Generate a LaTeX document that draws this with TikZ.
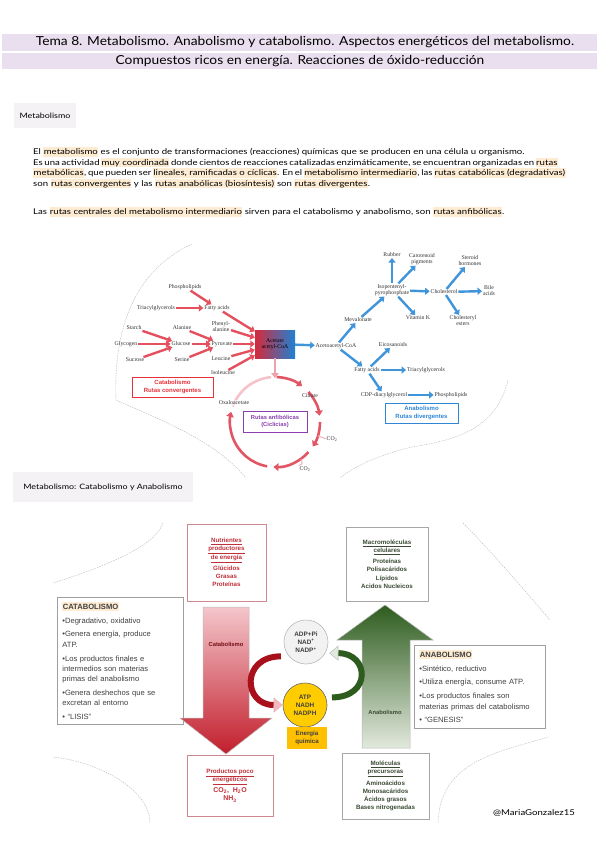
\documentclass[tikz,border=0pt]{standalone}
\usepackage{fontspec}
\setmainfont{Lato}
\newfontfamily\handf{Lato}[FakeStretch=1.2]
\newfontfamily\titlef{Lato}[FakeStretch=1.11]
\newfontfamily\arialf{Liberation Sans}
\newfontfamily\timesf{Liberation Serif}
\usetikzlibrary{calc,arrows.meta}

\definecolor{lavband}{HTML}{E9DFEE}
\definecolor{hlpeach}{HTML}{FDEBD2}
\definecolor{headgray}{HTML}{F4F2F5}
\definecolor{catred}{HTML}{E8303A}
\definecolor{catarrow}{HTML}{E4505E}
\definecolor{cycred}{HTML}{E25565}
\definecolor{anaarrow}{HTML}{3F94DA}
\definecolor{anablue}{HTML}{2D86D6}
\definecolor{anfpurple}{HTML}{8A3FB0}
\definecolor{acred}{HTML}{D42A3C}
\definecolor{acmid}{HTML}{F3E6F0}
\definecolor{acblue}{HTML}{1F80D2}
\definecolor{nutred}{HTML}{C0303A}
\definecolor{pinkbord}{HTML}{D08890}
\definecolor{catpink}{HTML}{F4C6CB}
\definecolor{catmid}{HTML}{E58E98}
\definecolor{catdeep}{HTML}{C21E2C}
\definecolor{curvred}{HTML}{A8101C}
\definecolor{curvpink}{HTML}{F2B8C0}
\definecolor{greendark}{HTML}{2E5C1E}
\definecolor{greenmid}{HTML}{8FA884}
\definecolor{greenlight}{HTML}{E2E9DD}
\definecolor{textgreen}{HTML}{3A4A34}
\definecolor{atpyellow}{HTML}{FFCC00}
\definecolor{enyellow}{HTML}{FFC000}
\definecolor{boxtext}{HTML}{404040}

\newcommand{\hl}[1]{{\setlength{\fboxsep}{0.4pt}\colorbox{hlpeach}{\vphantom{Ág}#1}}}

\tikzset{
  titletxt/.style={inner sep=0pt, font=\titlef\fontsize{12.4}{14}\selectfont},
  headbox/.style={fill=headgray, inner sep=0pt, font=\handf\fontsize{7.4}{8}\selectfont},
  para/.style={anchor=west, inner sep=0pt, font=\handf\fontsize{8}{10}\selectfont},
  lbl/.style={inner sep=0.8pt, align=center, text=black!80, font=\timesf\fontsize{5.8}{6}\selectfont},
  catarr/.style={line width=2.4pt, draw=catarrow, -{Triangle[length=4.5pt,width=7pt]}},
  anaarr/.style={line width=2.4pt, draw=anaarrow, -{Triangle[length=4.5pt,width=7pt]}},
  cycarr/.style={line width=2.6pt, draw=cycred, -{Triangle[length=5pt,width=7.5pt]}},
  legbox/.style={draw, line width=0.6pt, fill=white, align=center, inner sep=1pt, font=\arialf\bfseries\fontsize{6}{7.4}\selectfont},
  outline/.style={draw=gray!55, dash pattern=on 1.5pt off 1pt, line width=0.4pt},
  infobox/.style={draw=gray!75, line width=0.8pt, fill=white, text width=116pt, inner sep=5pt, align=left, text=boxtext, font=\arialf\fontsize{7.6}{10.3}\selectfont},
  smallbox/.style={draw, line width=0.8pt, fill=white, align=center, inner sep=1pt, font=\arialf\bfseries\fontsize{6.2}{8.2}\selectfont},
  circ/.style={circle, minimum size=44pt, inner sep=0pt, line width=0.6pt, align=center, font=\arialf\bfseries\fontsize{6.4}{8.2}\selectfont},
  arrlbl/.style={inner sep=0pt, font=\arialf\bfseries\fontsize{5.8}{6}\selectfont}
}

\begin{document}
\begin{tikzpicture}[x=1pt,y=-1pt]
\useasboundingbox (0,0) rectangle (599,848);
\fill[white] (0,0) rectangle (599,848);

\fill[lavband] (2,34) rectangle (597,51);
\fill[lavband] (2,53) rectangle (597,69);
\node[titletxt] (tit1) at (305,42.5) {Tema 8. Metabolismo. Anabolismo y catabolismo. Aspectos energéticos del metabolismo.};
\node[titletxt] (tit2) at (300,61) {Compuestos ricos en energía. Reacciones de óxido-reducción};

\node[headbox, minimum width=62pt, minimum height=25pt] (head1) at (45,116) {Metabolismo};

\node[para] (p1) at (33,152) {El \hl{metabolismo} es el conjunto de transformaciones (reacciones) químicas que se producen en una célula u organismo.};
\node[para] (p2) at (33,162.5) {\makebox[524pt][s]{Es una actividad \hl{muy coordinada} donde cientos de reacciones catalizadas enzimáticamente, se encuentran organizadas en \hl{rutas}}};
\node[para] (p3) at (33,173) {\makebox[524pt][s]{\hl{metabólicas}, que pueden ser \hl{lineales, ramificadas o cíclicas}. En el \hl{metabolismo intermediario}, las \hl{rutas catabólicas (degradativas)}}};
\node[para] (p4) at (33,183.5) {son \hl{rutas convergentes} y las \hl{rutas anabólicas (biosíntesis)} son \hl{rutas divergentes}.};
\node[para] (p5) at (33,212) {Las \hl{rutas centrales del metabolismo intermediario} sirven para el catabolismo y anabolismo, son \hl{rutas anfibólicas}.};

\draw[outline] (192,244) .. controls (140,268) and (113,320) .. (116,400) .. controls (160,420) and (215,440) .. (246,478);
\draw[outline] (508,380) .. controls (496,430) and (455,440) .. (412,447) .. controls (382,454) and (356,465) .. (340,478);

\node[lbl] (phosl) at (185,287) {Phospholipids};
\node[lbl] (triacl) at (156,308) {Triacylglycerols};
\node[lbl] (fattyl) at (217,308) {Fatty acids};
\node[lbl] (starch) at (134,328) {Starch};
\node[lbl] (alanine) at (182,328) {Alanine};
\node[lbl] (phenyl) at (221,327) {Phenyl-\\alanine};
\node[lbl] (glycogen) at (126,344) {Glycogen};
\node[lbl] (glucose) at (181,344) {Glucose};
\node[lbl] (pyruvate) at (222,344) {Pyruvate};
\node[lbl] (sucrose) at (135,360) {Sucrose};
\node[lbl] (serine) at (182,360) {Serine};
\node[lbl] (leucine) at (221,359) {Leucine};
\node[lbl] (isoleu) at (223,373) {Isoleucine};
\node[lbl, text=black, minimum width=40pt, minimum height=28pt, left color=acred, middle color=acmid, right color=acblue] (acetyl) at (275,344) {Acetate\\acetyl-CoA};
\node[lbl] (acetoa) at (336,346) {Acetoacetyl-CoA};

\draw[catarr] (phosl) -- (fattyl);
\draw[catarr] (triacl) -- (fattyl);
\draw[catarr] (starch) -- (glucose);
\draw[catarr] (glycogen) -- (glucose);
\draw[catarr] (sucrose) -- (glucose);
\draw[catarr] (alanine) -- (pyruvate);
\draw[catarr] (glucose) -- (pyruvate);
\draw[catarr] (serine) -- (pyruvate);
\foreach \src in {fattyl,phenyl,pyruvate,leucine,isoleu}
  \draw[catarr] (\src) -- (acetyl);
\draw[anaarr] (acetyl) -- (acetoa);

\node[legbox, draw=catred, text=catred, minimum width=81pt, minimum height=20pt] (catleg) at (172.5,387) {Catabolismo\\Rutas convergentes};

\coordinate (cyc) at (275,422);
\coordinate (cyctop) at (275,378);
\draw[cycarr, draw=cycred!55] (acetyl) -- (cyctop);
\foreach \a/\b in {-88/-53, -42/-8, 0/33, 42/92, 100/193}
  \draw[cycarr] ($(cyc)+(\a:45)$) arc[start angle=\a, end angle=\b, radius=45];
\draw[line width=2.6pt, draw=cycred!35] ($(cyc)+(-160:45)$) arc[start angle=-160, end angle=-95, radius=45];
\node[lbl] (citrate) at (310,396) {Citrate};
\node[lbl, fill=white, fill opacity=0.6, text opacity=1] (oxalo) at (234,403) {Oxaloacetate};
\node[lbl] (co2a) at (332,439) {CO\textsubscript{2}};
\node[lbl] (co2b) at (305,469) {CO\textsubscript{2}};
\draw[line width=1pt, draw=cycred!45] ($(cyc)+(18:45)$) .. controls +(6,2) .. (co2a.west);
\draw[line width=1pt, draw=cycred!45] ($(cyc)+(55:45)$) .. controls +(2,5) .. (co2b.north west);
\node[legbox, draw=anfpurple, text=anfpurple, minimum width=64pt, minimum height=21pt, font=\arialf\bfseries\fontsize{5.8}{7.2}\selectfont] (anfleg) at (275,421.5) {Rutas anfibólicas\\(Ciclicias)};

\node[lbl] (rubber) at (392,255) {Rubber};
\node[lbl] (carot) at (422,259) {Carotenoid\\pigments};
\node[lbl] (steroid) at (470,261) {Steroid\\hormones};
\node[lbl] (isopent) at (392,290) {Isopentenyl-\\pyrophosphate};
\node[lbl] (cholest) at (444,292) {Cholesterol};
\node[lbl] (bile) at (489,291) {Bile\\acids};
\node[lbl] (meval) at (358,320) {Mevalonate};
\node[lbl] (vitk) at (418,318) {Vitamin K};
\node[lbl] (cholestr) at (463,321) {Cholesteryl\\esters};
\node[lbl] (eicos) at (393,345) {Eicosanoids};
\node[lbl] (fattyr) at (367,370) {Fatty acids};
\node[lbl] (triacr) at (426,370) {Triacylglycerols};
\node[lbl] (cdp) at (384,395) {CDP-diacylglycerol};
\node[lbl] (phosr) at (451,395) {Phospholipids};

\draw[anaarr] (acetoa) -- (meval);
\draw[anaarr] (meval) -- (isopent);
\draw[anaarr] (isopent) -- (rubber);
\draw[anaarr] (isopent) -- (carot);
\draw[anaarr] (isopent) -- (cholest);
\draw[anaarr] (isopent) -- (vitk);
\draw[anaarr] (cholest) -- (steroid);
\draw[anaarr] (cholest) -- (bile);
\draw[anaarr] (cholest) -- (cholestr);
\draw[anaarr] (acetoa) -- (fattyr);
\draw[anaarr] (fattyr) -- (eicos);
\draw[anaarr] (fattyr) -- (triacr);
\draw[anaarr] (fattyr) -- (cdp);
\draw[anaarr] (cdp) -- (phosr);

\node[legbox, draw=anablue, text=anablue, minimum width=73pt, minimum height=20pt] (analeg) at (421.5,413) {Anabolismo\\Rutas divergentes};

\node[headbox, minimum width=180pt, minimum height=30pt] (head2) at (103,487) {Metabolismo: Catabolismo y Anabolismo};

\draw[outline] (163,523) .. controls (156,545) and (110,565) .. (53,583);
\draw[outline] (53,757) .. controls (100,762) and (150,790) .. (150,823);
\draw[outline] (463,523) .. controls (490,550) and (520,585) .. (550,620);
\draw[outline] (548,737) .. controls (500,752) and (440,760) .. (438,823);

\node[smallbox, draw=pinkbord, text=nutred, minimum width=79pt, minimum height=77pt] (nutri) at (226.5,562.5) {\underline{Nutrientes}\\\underline{productores}\\\underline{de energía}\\[3pt]Glúcidos\\Grasas\\Proteínas};

\node[infobox, anchor=north west] (catinfo) at (57,597) {\hl{\textbf{CATABOLISMO}}\\[3.5pt]
•Degradativo, oxidativo\\[3.5pt]
•Genera energía, produce\\ATP.\\[3.5pt]
•Los productos finales e\\intermedios son materias\\primas del anabolismo\\[3.5pt]
•Genera deshechos que se\\excretan al entorno\\[3.5pt]
• “LISIS”};

\shadedraw[top color=catpink, middle color=catmid, bottom color=catdeep, draw=gray!55, line width=0.5pt]
  (203,607) -- (249,607) -- (249,718) -- (272,718) -- (226,754) -- (180,718) -- (203,718) -- cycle;
\node[arrlbl, text=curvred!70!black] (catlbl) at (226,644) {Catabolismo};

\node[smallbox, draw=pinkbord, text=nutred, minimum width=86pt, minimum height=61pt] (prod) at (230,785.5) {\underline{Productos poco}\\\underline{energéticos}\\[2pt]{\fontsize{7}{8.4}\selectfont CO\textsubscript{2},~ H\textsubscript{2}O}\\{\fontsize{7}{8.4}\selectfont NH\textsubscript{3}}};

\shadedraw[top color=greendark, middle color=greenmid, bottom color=greenlight, draw=gray!55, line width=0.5pt]
  (362,748) -- (362,640) -- (337,640) -- (385,605) -- (433,640) -- (410,640) -- (410,748) -- cycle;
\node[arrlbl, text=textgreen] (anlbl) at (385,712) {Anabolismo};

\node[smallbox, draw=gray!70, text=textgreen, minimum width=82pt, minimum height=74pt] (macro) at (387,564) {\underline{Macromoléculas}\\\underline{celulares}\\[3pt]Proteínas\\Polisacáridos\\Lípidos\\Acidos Nucleicos};

\node[circ, draw=gray!55, fill=gray!10, text=boxtext] (adp) at (306,642) {ADP+Pi\\NAD\textsuperscript{+}\\NADP\textsuperscript{+}};
\node[circ, draw=black!60, fill=atpyellow, text=black!75] (atp) at (305,705) {ATP\\NADH\\NADPH};
\node[arrlbl, fill=enyellow, minimum width=40pt, minimum height=22pt, align=center, text=black!75, font=\arialf\bfseries\fontsize{6.2}{8}\selectfont] (energ) at (307,738) {Energía\\química};

\draw[line width=6pt, draw=curvred, -{Triangle[length=9pt,width=15pt,line width=0.4pt,fill=curvpink,color=pink!80!gray]}]
  ([xshift=-8pt]adp.220) .. controls +(-40,0) and +(-40,0) .. (atp.west);
\draw[line width=6pt, draw=greendark, -{Triangle[length=9pt,width=15pt,line width=0.4pt,color=gray!60,fill=greenlight]}]
  ([xshift=6pt]atp.20) .. controls +(40,0) and +(40,0) .. ([xshift=4pt]adp.330);

\node[infobox, anchor=north west, text width=121pt] (anainfo) at (414,645) {\hl{\textbf{ANABOLISMO}}\\[3.5pt]
•Sintético, reductivo\\[3.5pt]
•Utiliza energía, consume ATP.\\[3.5pt]
•Los productos finales son\\materias primas del catabolismo\\[3.5pt]
• “GENESIS”};

\node[smallbox, draw=gray!70, text=textgreen, minimum width=87pt, minimum height=66pt] (prec) at (385.5,786) {\underline{Moléculas}\\\underline{precursoras}\\[3pt]Aminoácidos\\Monosacáridos\\Ácidos grasos\\Bases nitrogenadas};

\node[inner sep=0pt, font=\handf\fontsize{8}{10}\selectfont] (firma) at (534,813) {@MariaGonzalez15};
\end{tikzpicture}
\end{document}
